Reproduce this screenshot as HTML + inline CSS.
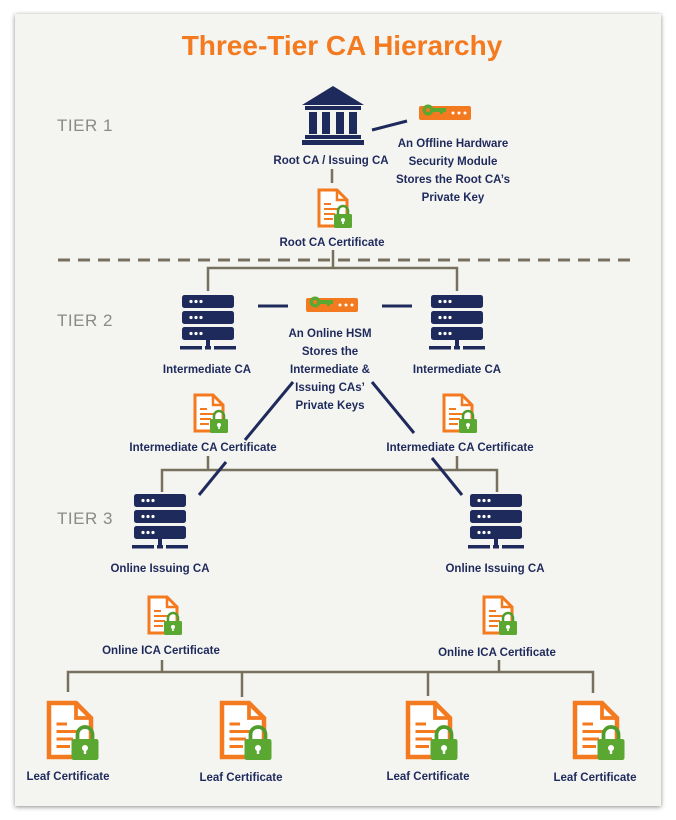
<!DOCTYPE html>
<html><head><meta charset="utf-8"><style>
html,body{margin:0;padding:0;background:#fff}
svg{display:block}
text{font-family:"Liberation Sans",sans-serif}
.l{font-size:11.5px;font-weight:bold;fill:#1f2a5c;text-anchor:middle}
.t{font-size:17px;fill:#8a8a86;letter-spacing:0.5px}
</style></head><body>
<svg width="676" height="820" viewBox="0 0 676 820" xmlns="http://www.w3.org/2000/svg">
<defs>
<filter id="sh" x="-5%" y="-5%" width="110%" height="110%"><feDropShadow dx="0" dy="1" stdDeviation="2.5" flood-color="#000" flood-opacity="0.45"/></filter>
<g id="cert">
 <path d="M2,2 H20 L30,12 V38 H2 Z" fill="#fff" stroke="#f47a1f" stroke-width="3" stroke-linejoin="miter"/>
 <path d="M20,2 V12 H30" fill="none" stroke="#f47a1f" stroke-width="2.5"/>
 <g stroke="#f47a1f" stroke-width="2"><line x1="7" y1="16" x2="14" y2="16"/><line x1="7" y1="21" x2="22" y2="21"/><line x1="7" y1="26" x2="18" y2="26"/><line x1="7" y1="31" x2="16" y2="31"/></g>
 <path d="M21,27 V23 a5,5 0 0 1 10,0 V27" fill="none" stroke="#4f9e2d" stroke-width="2.5"/>
 <rect x="17" y="26" width="18" height="14" rx="1.5" fill="#5aa832"/>
 <circle cx="26" cy="32" r="2" fill="#fff"/><rect x="25.2" y="32" width="1.6" height="4" fill="#fff"/>
</g>
<g id="srv">
 <rect x="-26" y="0" width="52" height="13" rx="2.5" fill="#1f2a5c"/>
 <rect x="-26" y="16" width="52" height="13" rx="2.5" fill="#1f2a5c"/>
 <rect x="-26" y="32" width="52" height="13" rx="2.5" fill="#1f2a5c"/>
 <g fill="#fff"><circle cx="-17" cy="6.5" r="1.6"/><circle cx="-12" cy="6.5" r="1.6"/><circle cx="-7" cy="6.5" r="1.6"/>
 <circle cx="-17" cy="22.5" r="1.6"/><circle cx="-12" cy="22.5" r="1.6"/><circle cx="-7" cy="22.5" r="1.6"/>
 <circle cx="-17" cy="38.5" r="1.6"/><circle cx="-12" cy="38.5" r="1.6"/><circle cx="-7" cy="38.5" r="1.6"/></g>
 <rect x="-2" y="45" width="4" height="8" fill="#1f2a5c"/>
 <rect x="-28" y="51" width="22" height="3.5" fill="#1f2a5c"/>
 <rect x="-3" y="51" width="6" height="3.5" fill="#1f2a5c"/>
 <rect x="6" y="51" width="22" height="3.5" fill="#1f2a5c"/>
</g>
<g id="hsm">
 <rect x="0" y="4" width="52" height="14" rx="2" fill="#f47a1f"/>
 <g fill="#fff"><circle cx="34" cy="11" r="1.5"/><circle cx="40" cy="11" r="1.5"/><circle cx="46" cy="11" r="1.5"/></g>
 <circle cx="9" cy="8" r="5.5" fill="#5aa832"/><circle cx="9" cy="8" r="2" fill="#f47a1f"/>
 <path d="M13,6 H27 V10 H24 V12 H21 V10 H13 Z" fill="#5aa832"/>
</g>
</defs>
<rect width="676" height="820" fill="#fff"/>
<rect x="15" y="14" width="646" height="792" fill="#f4f4f0" filter="url(#sh)"/>
<text x="342" y="55" text-anchor="middle" style="font-size:28px;font-weight:bold;fill:#f47a1f">Three-Tier CA Hierarchy</text>
<text class="t" x="57" y="131">TIER 1</text>
<text class="t" x="57" y="326">TIER 2</text>
<text class="t" x="57" y="524">TIER 3</text>
<!-- bank -->
<g fill="#1f2a5c">
 <path d="M333,86 L364,105 H302 Z"/>
 <rect x="305" y="106" width="56" height="4"/>
 <rect x="309" y="112" width="8" height="22"/><rect x="322" y="112" width="8" height="22"/><rect x="336" y="112" width="8" height="22"/><rect x="349" y="112" width="8" height="22"/>
 <rect x="305" y="135" width="56" height="4"/><rect x="302" y="140" width="62" height="5"/>
</g>
<text class="l" x="331" y="164">Root CA / Issuing CA</text>
<line x1="372" y1="130" x2="407" y2="121" stroke="#1f2a5c" stroke-width="3"/>
<use href="#hsm" x="419" y="102"/>
<text class="l" x="453" y="147">An Offline Hardware</text>
<text class="l" x="453" y="165">Security Module</text>
<text class="l" x="453" y="183">Stores the Root CA’s</text>
<text class="l" x="453" y="201">Private Key</text>
<g stroke="#77705f" stroke-width="2.5" fill="none">
 <line x1="332" y1="169" x2="332" y2="183"/>
 <line x1="333" y1="250" x2="333" y2="268"/>
 <path d="M208,291 V268 H457 V291"/>
 <line x1="208" y1="456" x2="208" y2="470"/>
 <line x1="457" y1="456" x2="457" y2="470"/>
 <path d="M162,492 V470 H497 V492"/>
 <line x1="162" y1="660" x2="162" y2="672"/>
 <line x1="499" y1="660" x2="499" y2="672"/>
 <path d="M68,692 V672 H593 V693"/>
 <line x1="242" y1="672" x2="242" y2="697"/>
 <line x1="428" y1="672" x2="428" y2="696"/>
</g>
<line x1="58" y1="260" x2="630" y2="260" stroke="#77705f" stroke-width="3" stroke-dasharray="12,8"/>
<use href="#cert" x="317" y="188"/>
<text class="l" x="332" y="246">Root CA Certificate</text>
<use href="#srv" x="208" y="295"/>
<use href="#srv" x="457" y="295"/>
<text class="l" x="207" y="373">Intermediate CA</text>
<text class="l" x="457" y="373">Intermediate CA</text>
<line x1="258" y1="306" x2="288" y2="306" stroke="#1f2a5c" stroke-width="3"/>
<line x1="382" y1="306" x2="412" y2="306" stroke="#1f2a5c" stroke-width="3"/>
<use href="#hsm" x="306" y="294"/>
<text class="l" x="330" y="337">An Online HSM</text>
<text class="l" x="330" y="355">Stores the</text>
<text class="l" x="330" y="373">Intermediate &amp;</text>
<text class="l" x="330" y="391">Issuing CAs’</text>
<text class="l" x="330" y="409">Private Keys</text>
<g stroke="#1f2a5c" stroke-width="3">
 <line x1="293" y1="382" x2="245" y2="440"/>
 <line x1="226" y1="462" x2="199" y2="495"/>
 <line x1="372" y1="382" x2="414" y2="433"/>
 <line x1="432" y1="458" x2="462" y2="495"/>
</g>
<use href="#cert" x="193" y="393"/>
<use href="#cert" x="442" y="393"/>
<text class="l" x="203" y="451">Intermediate CA Certificate</text>
<text class="l" x="460" y="451">Intermediate CA Certificate</text>
<use href="#srv" x="160" y="494"/>
<use href="#srv" x="496" y="494"/>
<text class="l" x="160" y="572">Online Issuing CA</text>
<text class="l" x="495" y="572">Online Issuing CA</text>
<use href="#cert" x="147" y="595"/>
<use href="#cert" x="482" y="595"/>
<text class="l" x="161" y="654">Online ICA Certificate</text>
<text class="l" x="497" y="656">Online ICA Certificate</text>
<use href="#cert" transform="translate(46,700) scale(1.5)"/>
<use href="#cert" transform="translate(219,700) scale(1.5)"/>
<use href="#cert" transform="translate(405,700) scale(1.5)"/>
<use href="#cert" transform="translate(572,700) scale(1.5)"/>
<text class="l" x="68" y="780">Leaf Certificate</text>
<text class="l" x="241" y="781">Leaf Certificate</text>
<text class="l" x="428" y="780">Leaf Certificate</text>
<text class="l" x="595" y="781">Leaf Certificate</text>
</svg>
</body></html>
